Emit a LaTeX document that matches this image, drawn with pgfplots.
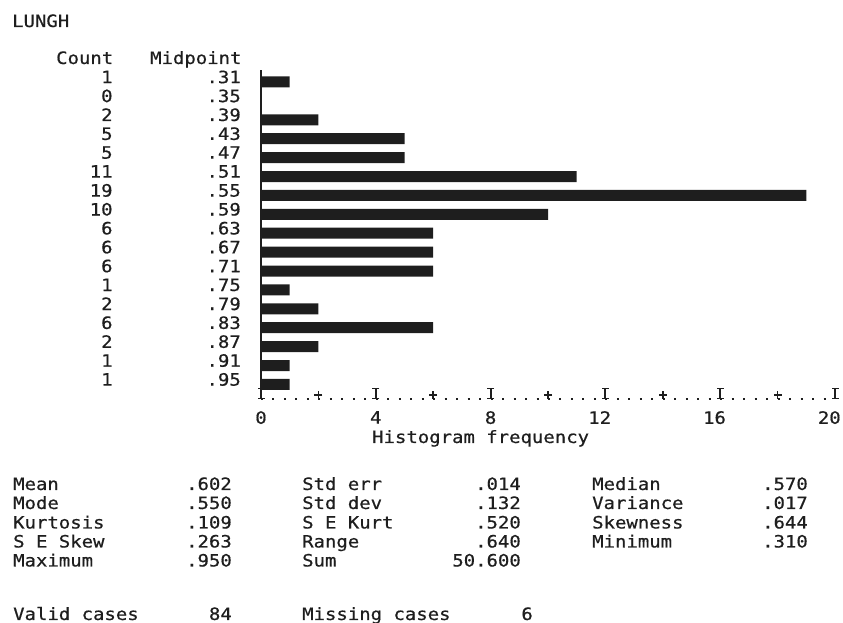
\documentclass[border=0pt]{standalone}
\usepackage{fontspec}
\setmainfont{DejaVu Sans Mono}[FakeStretch=1.115, FakeBold=0.6]
\usepackage{pgfplots}
\pgfplotsset{compat=1.18}
\definecolor{ink}{HTML}{1E1E1E}
\begin{document}
\fontsize{17}{20}\selectfont
\begin{tikzpicture}[x=1pt,y=1pt]
\useasboundingbox (0,0) rectangle (843,623);
\begin{axis}[
  at={(261pt,224pt)}, anchor=south west, scale only axis,
  width=574pt, height=329pt,
  xmin=0, xmax=20, ymin=-0.77, ymax=16.635,
  axis x line=bottom, axis y line=left,
  axis line style={-, ink, line width=1.5pt},
  x axis line style={-, dash pattern=on 2pt off 9.48pt, line width=2pt},
  tick align=inside,
  xtick={0,4,8,12,16,20}, xticklabels={0,4,8,\llap{1}2,\llap{1}6,\llap{2}0},
  minor xtick={2,6,10,14,18},
  major tick length=11pt, minor tick length=8pt,
  xtick style={ink, line width=2pt},
  minor x tick style={ink, line width=1.6pt},
  xticklabel style={inner sep=0pt, text=ink, yshift=-12pt, font=\fontsize{17}{20}\selectfont},
  ytick={0,...,16},
  ytick style={draw=none},
  yticklabels={
    {\llap{1\hspace{94pt}}.95},
    {\llap{1\hspace{94pt}}.91},
    {\llap{2\hspace{94pt}}.87},
    {\llap{6\hspace{94pt}}.83},
    {\llap{2\hspace{94pt}}.79},
    {\llap{1\hspace{94pt}}.75},
    {\llap{6\hspace{94pt}}.71},
    {\llap{6\hspace{94pt}}.67},
    {\llap{6\hspace{94pt}}.63},
    {\llap{10\hspace{94pt}}.59},
    {\llap{19\hspace{94pt}}.55},
    {\llap{11\hspace{94pt}}.51},
    {\llap{5\hspace{94pt}}.47},
    {\llap{5\hspace{94pt}}.43},
    {\llap{2\hspace{94pt}}.39},
    {\llap{0\hspace{94pt}}.35},
    {\llap{1\hspace{94pt}}.31}},
  yticklabel style={inner sep=0pt, xshift=-20pt, yshift=5pt, text=ink, font=\fontsize{17}{20}\selectfont},
  clip=false,
]
\addplot[xbar, bar width=11pt, fill=ink, draw=none] coordinates {
  (1,16) (0,15) (2,14) (5,13) (5,12) (11,11) (19,10) (10,9) (6,8)
  (6,7) (6,6) (1,5) (2,4) (6,3) (2,2) (1,1) (1,0)};
% crossbars of the "+" minor ticks
\addplot[only marks, mark=-, mark size=4pt, ink, mark options={line width=1.6pt}]
  coordinates {(2,-0.56) (6,-0.56) (10,-0.56) (14,-0.56) (18,-0.56)};
% serifs of the "I" major ticks
\addplot[only marks, mark=-, mark size=3.5pt, ink, mark options={line width=1.5pt}]
  coordinates {(0,-0.22) (4,-0.22) (8,-0.22) (12,-0.22) (16,-0.22) (20,-0.22)
               (0,-0.75) (4,-0.75) (8,-0.75) (12,-0.75) (16,-0.75) (20,-0.75)};
\end{axis}
\begin{scope}[every node/.style={inner sep=0pt, text=ink}]
\node[anchor=base west] at (12,596) {LUNGH};
\node[anchor=base west] at (56,559) {Count};
\node[anchor=base west] at (150,559) {Midpoint};
\node[anchor=base west] at (372,180) {Histogram frequency};
% statistics
\node[anchor=base west] at (13,133) {Mean};
\node[anchor=base east] at (232,133) {.602};
\node[anchor=base west] at (302,133) {Std err};
\node[anchor=base east] at (521,133) {.014};
\node[anchor=base west] at (592,133) {Median};
\node[anchor=base east] at (808,133) {.570};
\node[anchor=base west] at (13,114) {Mode};
\node[anchor=base east] at (232,114) {.550};
\node[anchor=base west] at (302,114) {Std dev};
\node[anchor=base east] at (521,114) {.132};
\node[anchor=base west] at (592,114) {Variance};
\node[anchor=base east] at (808,114) {.017};
\node[anchor=base west] at (13,94.5) {Kurtosis};
\node[anchor=base east] at (232,94.5) {.109};
\node[anchor=base west] at (302,94.5) {S E Kurt};
\node[anchor=base east] at (521,94.5) {.520};
\node[anchor=base west] at (592,94.5) {Skewness};
\node[anchor=base east] at (808,94.5) {.644};
\node[anchor=base west] at (13,75.5) {S E Skew};
\node[anchor=base east] at (232,75.5) {.263};
\node[anchor=base west] at (302,75.5) {Range};
\node[anchor=base east] at (521,75.5) {.640};
\node[anchor=base west] at (592,75.5) {Minimum};
\node[anchor=base east] at (808,75.5) {.310};
\node[anchor=base west] at (13,56.5) {Maximum};
\node[anchor=base east] at (232,56.5) {.950};
\node[anchor=base west] at (302,56.5) {Sum};
\node[anchor=base east] at (521,56.5) {50.600};
\node[anchor=base west] at (13,3) {Valid cases};
\node[anchor=base east] at (232,3) {84};
\node[anchor=base west] at (302,3) {Missing cases};
\node[anchor=base east] at (533,3) {6};
\end{scope}
\end{tikzpicture}
\end{document}
